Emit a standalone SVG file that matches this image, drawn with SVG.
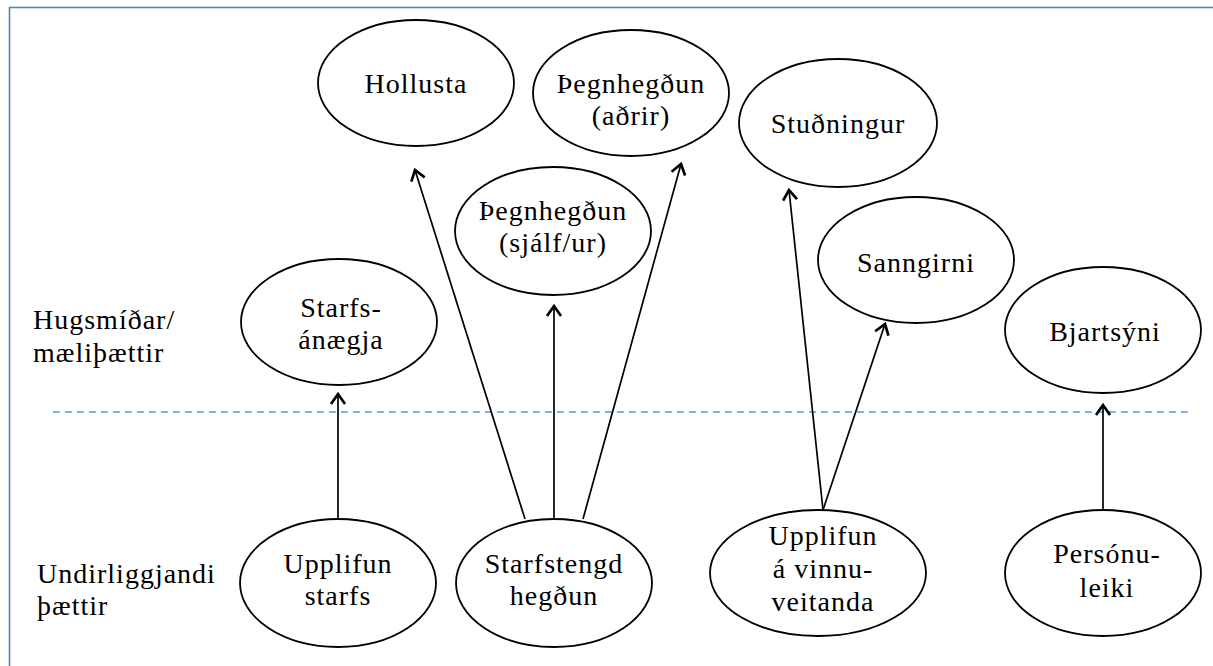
<svg xmlns="http://www.w3.org/2000/svg" width="1213" height="666" viewBox="0 0 1213 666">
<style>
.n ellipse{fill:#fff;stroke:#000;stroke-width:1.8}
text{font-family:"Liberation Serif","Times New Roman",serif;font-size:28px;letter-spacing:1px;fill:#000}
.c text,.n text{text-anchor:middle}
.e line{stroke:#000;stroke-width:1.7;marker-end:url(#ah)}
</style>
<defs>
<marker id="ah" markerUnits="userSpaceOnUse" markerWidth="30" markerHeight="30" refX="0" refY="0" viewBox="-15 -15 30 30" orient="auto" overflow="visible">
<path d="M-10,-7 L0,0 L-10,7" fill="none" stroke="#000" stroke-width="2.7" stroke-linejoin="miter"/>
</marker>
</defs>
<rect x="9.5" y="7.5" width="1220" height="680" fill="none" stroke="#5b80b4" stroke-width="1.6"/>
<line x1="53" y1="412" x2="1192" y2="412" stroke="#5b9bd5" stroke-width="1.6" stroke-dasharray="7,5"/>
<g id="labels">
<text x="33" y="329">Hugsmíðar/</text>
<text x="33" y="362">mæliþættir</text>
<text x="37" y="583">Undirliggjandi</text>
<text x="37" y="615">þættir</text>
</g>
<g class="e" id="connectors">
<line x1="338" y1="519" x2="338" y2="394"/>
<line x1="525" y1="519" x2="415" y2="170"/>
<line x1="554" y1="519" x2="554" y2="306"/>
<line x1="583" y1="519" x2="681" y2="164"/>
<line x1="823" y1="510" x2="789" y2="190"/>
<line x1="823" y1="510" x2="885" y2="324"/>
<line x1="1103" y1="510" x2="1103" y2="405"/>
</g>
<g class="n" id="hollusta"><ellipse cx="416" cy="83" rx="98" ry="63"/><text x="416" y="93">Hollusta</text></g>
<g class="n" id="thegn-adrir"><ellipse cx="631" cy="93" rx="98" ry="63"/><text x="631" y="93">Þegnhegðun</text><text x="631" y="125">(aðrir)</text></g>
<g class="n" id="thegn-sjalf"><ellipse cx="553" cy="231" rx="98" ry="64"/><text x="553" y="220">Þegnhegðun</text><text x="553" y="252">(sjálf/ur)</text></g>
<g class="n" id="studningur"><ellipse cx="838" cy="123" rx="99" ry="64"/><text x="838" y="133">Stuðningur</text></g>
<g class="n" id="sanngirni"><ellipse cx="916" cy="260" rx="98" ry="63"/><text x="916" y="272">Sanngirni</text></g>
<g class="n" id="bjartsyni"><ellipse cx="1103" cy="330" rx="98" ry="63"/><text x="1105" y="341">Bjartsýni</text></g>
<g class="n" id="starfsanaegja"><ellipse cx="339" cy="322" rx="98" ry="63"/><text x="341" y="317">Starfs-</text><text x="341" y="349">ánægja</text></g>
<g class="n" id="upplifun-starfs"><ellipse cx="338" cy="583" rx="98" ry="64"/><text x="338" y="573">Upplifun</text><text x="338" y="605">starfs</text></g>
<g class="n" id="starfstengd"><ellipse cx="554" cy="583" rx="98" ry="64"/><text x="554" y="573">Starfstengd</text><text x="554" y="605">hegðun</text></g>
<g class="n" id="upplifun-vinnuveitanda"><ellipse cx="818" cy="573" rx="108" ry="63"/><text x="823" y="545">Upplifun</text><text x="823" y="578">á vinnu-</text><text x="823" y="611">veitanda</text></g>
<g class="n" id="personuleiki"><ellipse cx="1103" cy="573" rx="98" ry="63"/><text x="1107" y="563">Persónu-</text><text x="1107" y="597">leiki</text></g>
</svg>
